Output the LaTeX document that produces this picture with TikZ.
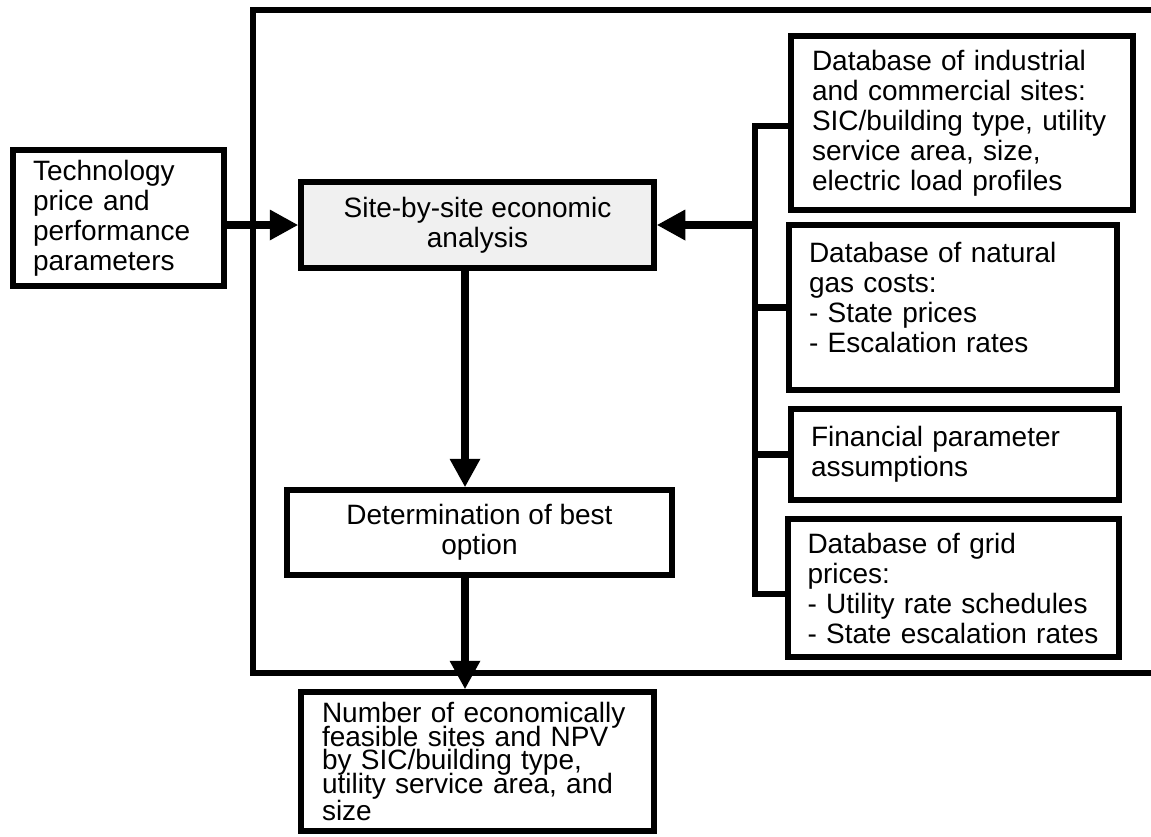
\documentclass[tikz,border=0pt]{standalone}
\usepackage{fontspec}
\setmainfont{Liberation Sans}
\usetikzlibrary{arrows.meta}
\begin{document}
\begin{tikzpicture}[x=1pt,y=-1pt,
  every node/.style={inner sep=0pt, font=\fontsize{28}{30}\selectfont},
  box/.style={draw, line width=6.5pt, align=left},
  conn/.style={line width=6.5pt},
  arr/.style={line width=8pt, -{Triangle[length=28pt,width=31pt,line width=0pt]}}
]
\useasboundingbox (0,0) rectangle (1151,836);

% outer frame (open at the right)
\draw[conn, line join=miter] (1151,10) -- (253,10) -- (253,673) -- (1151,673);

\node[box, minimum width=211pt, minimum height=136pt, text width=171pt] (tech) at (118.5,218)
  {Technology\\price and\\performance\\parameters};

\node[box, fill=black!6, minimum width=353pt, minimum height=86pt, align=center] (site) at (477.5,225)
  {Site-by-site economic\\analysis};

\node[box, minimum width=385pt, minimum height=85pt, align=center] (det) at (479.5,532.5)
  {Determination of best\\option};

\node[box, minimum width=353pt, minimum height=139pt, text width=311pt,
  font=\fontsize{28}{23.5}\selectfont] (res) at (477.5,761.5)
  {\lineskiplimit=-100pt\relax Number of economically\\feasible sites and NPV\\by SIC/building type,\\utility service area, and\\size};

\node[box, minimum width=342pt, minimum height=174pt, text width=300pt] (b1) at (962,123)
  {Database of industrial\\and commercial sites:\\SIC/building type, utility\\service area, size,\\electric load profiles};

\node[box, minimum width=328pt, minimum height=165pt, text width=288pt] (b2) at (953,307.5)
  {Database of natural\\gas costs:\\- State prices\\- Escalation rates\\[-10pt]\mbox{}};

\node[box, minimum width=328pt, minimum height=91pt, text width=288pt] (b3) at (955,454.5)
  {Financial parameter\\assumptions};

\node[box, minimum width=331pt, minimum height=138pt, text width=292pt] (b4) at (953.5,588)
  {Database of grid\\prices:\\- Utility rate schedules\\- State escalation rates};

% bus on the right
\coordinate (busT) at (755,126);
\coordinate (busB) at (755,594);
\coordinate (vx) at (465,0);
\draw[conn, line join=miter] (b1.west |- busT) -- (busT) -- (busB) -- (b4.west |- busB);
\draw[conn] (busT |- b2.west) -- (b2.west);
\draw[conn] (busT |- b3.west) -- (b3.west);

% arrows
\draw[arr] (tech.east |- site.west) -- (site.west);
\draw[arr] (busT |- site.east) -- (site.east);
\draw[arr] (site.south -| vx) -- (det.north -| vx);
\draw[arr] (det.south -| vx) -- (res.north -| vx);
\end{tikzpicture}
\end{document}
